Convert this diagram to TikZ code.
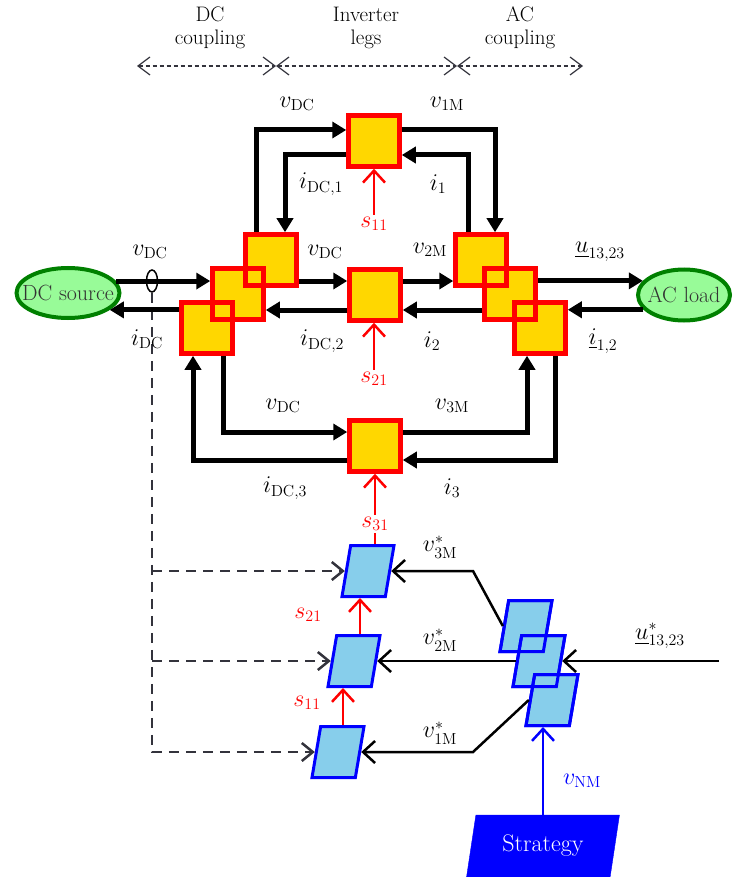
\RequirePackage{fix-cm}
\documentclass[tikz,border=0pt]{standalone}
\usepackage{amsmath}
\usepackage{tikz}
\DeclareMathSizes{22}{24}{16}{12}
\definecolor{legfill}{RGB}{255,215,0}
\definecolor{srcfill}{RGB}{152,251,152}
\definecolor{srcedge}{RGB}{0,128,0}
\definecolor{ctrlfill}{RGB}{135,206,235}
\definecolor{dimgray}{RGB}{51,51,60}
\usetikzlibrary{arrows.meta,shapes.geometric}

\begin{document}
\begin{tikzpicture}[x=1pt,y=1pt,font=\fontsize{22}{24}\selectfont,
  leg/.style={draw=red,fill=legfill,line width=4.5pt,minimum size=51pt,inner sep=0pt},
  src/.style={ellipse,draw=srcedge,fill=srcfill,line width=4pt,inner sep=0pt,label={[text=black!80]center:#1}},
  para/.style={trapezium,trapezium left angle=76,trapezium right angle=104,trapezium stretches=true,
    draw=blue,fill=ctrlfill,line width=3pt,minimum width=52pt,minimum height=51pt,inner sep=2pt},
  strat/.style={trapezium,trapezium left angle=77,trapezium right angle=103,trapezium stretches=true,
    draw=blue,fill=blue,text=white,minimum width=153pt,minimum height=62pt,inner sep=2pt,
    font=\fontsize{24}{26}\selectfont},
  pw/.style={line width=5pt,-{Triangle[length=14pt,width=16pt]}},
  sig/.style={line width=2.5pt,red,-{Straight Barb[length=12pt,width=22pt]}},
  cmd/.style={line width=2.5pt,-{Straight Barb[length=12pt,width=22pt]}},
  sense/.style={line width=2.5pt,dimgray,dash pattern=on 10pt off 7pt,-{Straight Barb[length=11pt,width=18pt]}},
  dim/.style={line width=1.2pt,dimgray,dash pattern=on 4pt off 3pt,
    {Straight Barb[length=12pt,width=18pt]}-{Straight Barb[length=12pt,width=18pt]}},
  slbl/.style={text=red,inner sep=2pt},
  head/.style={align=center,font=\fontsize{21}{23}\selectfont}]
  \useasboundingbox (0,0) rectangle (734,-877);

  % Dimension arrows on top
  \coordinate (d0) at (137,-66);
  \coordinate (d1) at (276,-66);
  \coordinate (d2) at (457,-66);
  \coordinate (d3) at (583,-66);
  \draw[dim] (d0) -- (d1);
  \draw[dim] (d1) -- (d2);
  \draw[dim] (d2) -- (d3);
  \node[head] (tdc) at (210,-28) {DC\\coupling};
  \node[head] (tinv) at (366,-28) {Inverter\\legs};
  \node[head] (tac) at (520,-28) {AC\\coupling};

  % Source and load
  \node[src=DC source,minimum width=103pt,minimum height=50pt] (dcsrc) at (68,-293) {};
  \node[src=AC load,minimum width=92pt,minimum height=51pt] (acload) at (684,-295) {};

  % Inverter legs
  \node[leg] (leg1) at (374,-141) {};
  \node[leg] (leg2) at (375,-295) {};
  \node[leg] (leg3) at (375,-446) {};
  % DC coupling switches
  \node[leg] (dc1) at (271,-260) {};
  \node[leg] (dc2) at (238,-294) {};
  \node[leg] (dc3) at (207,-328) {};
  % AC coupling switches
  \node[leg] (ac1) at (481,-260) {};
  \node[leg] (ac2) at (510,-294) {};
  \node[leg] (ac3) at (540,-328) {};
  \foreach \n in {dc1,dc2,dc3,ac1,ac2,ac3} \node[leg,fill=none] at (\n) {};

  % Modulators
  \node[para] (pwm3) at (368,-571) {};
  \node[para] (pwm2) at (354,-661) {};
  \node[para] (pwm1) at (338,-752) {};
  \node[para] (ref3) at (526,-626) {};
  \node[para] (ref2) at (539,-661) {};
  \node[para] (ref1) at (552,-700) {};
  \foreach \n in {ref3,ref2,ref1} \node[para,fill=none] at (\n) {};
  \node[strat] (strat) at (543,-846) {Strategy};

  % DC measurement
  \node[draw,ellipse,line width=1.5pt,minimum width=11pt,minimum height=22pt,inner sep=0pt] (ct) at (152,-281) {};
  \draw[sense] (ct.south) |- (pwm1.west);
  \draw[sense] (ct.south |- pwm2.west) -- (pwm2.west);
  \draw[sense] (ct.south |- pwm3.west) -- (pwm3.west);

  % DC side
  \draw[pw] (dcsrc.14) -- (dcsrc.14 -| dc2.west);
  \draw[pw] (dcsrc.338 -| dc3.west) -- (dcsrc.338);
  % Top leg
  \draw[pw] ([xshift=-15pt]dc1.north) |- ([yshift=11pt]leg1.west);
  \draw[pw] ([yshift=-14pt]leg1.west) -| ([xshift=14pt]dc1.north);
  \draw[pw] ([yshift=11pt]leg1.east) -| ([xshift=14pt]ac1.north);
  \draw[pw] ([xshift=-13pt]ac1.north) |- ([yshift=-14pt]leg1.east);
  % Middle leg
  \draw[pw] ([yshift=-21pt]dc1.east) -- ([yshift=14pt]leg2.west);
  \draw[pw] ([yshift=-15pt]leg2.west) -- ([yshift=-16pt]dc2.east);
  \draw[pw] ([yshift=14pt]leg2.east) -- ([yshift=-21pt]ac1.west);
  \draw[pw] ([yshift=-16pt]ac2.west) -- ([yshift=-15pt]leg2.east);
  % Bottom leg
  \draw[pw] ([xshift=16pt]dc3.south) |- ([yshift=14pt]leg3.west);
  \draw[pw] ([yshift=-14pt]leg3.west) -| ([xshift=-14pt]dc3.south);
  \draw[pw] ([yshift=14pt]leg3.east) -| ([xshift=-13pt]ac3.south);
  \draw[pw] ([xshift=15pt]ac3.south) |- ([yshift=-14pt]leg3.east);
  % AC side
  \draw[pw] (ac2.east |- acload.161) -- (acload.161);
  \draw[pw] (acload.200) -- (acload.200 -| ac3.east);

  % Switching signals
  \node[slbl] (s11) at (374,-224) {$s_{11}$};
  \node[slbl] (s21) at (374,-379) {$s_{21}$};
  \draw[sig] (s11.north) -- (s11.north |- leg1.south);
  \draw[sig] (s21.north) -- (s21.north |- leg2.south);
  \draw[sig] (pwm3.north -| leg3.south) -- (leg3.south);
  \node[slbl,fill=white] (s31) at (375,-524) {$s_{31}$};
  \coordinate (t1) at ([xshift=5pt]pwm1.north);
  \coordinate (t2) at ([xshift=6pt]pwm2.north);
  \draw[sig] (t1) -- (t1 |- pwm2.south);
  \draw[sig] (t2) -- (t2 |- pwm3.south);
  \node[slbl] (s11b) at (307,-703) {$s_{11}$};
  \node[slbl] (s21b) at (308,-615) {$s_{21}$};

  % Reference voltages
  \coordinate (k3) at (473,-571);
  \coordinate (k1) at (473,-752);
  \coordinate (uin) at (719,-661);
  \draw[cmd] (ref3.west) -- (k3) -- (pwm3.east);
  \draw[cmd] (ref2.west) -- (pwm2.east);
  \draw[cmd] (ref1.west) -- (k1) -- (pwm1.east);
  \draw[cmd] (uin) -- (ref2.east);
  \draw[cmd,blue] (strat.north) -- (strat.north |- ref1.south);

  % Labels
  \node (vdc0) at (150,-252) {$v_{\mathrm{DC}}$};
  \node (idc0) at (147,-339) {$i_{\mathrm{DC}}$};
  \node (vdc1) at (297,-104) {$v_{\mathrm{DC}}$};
  \node (idc1) at (321,-184) {$i_{\mathrm{DC,1}}$};
  \node (v1m) at (447,-104) {$v_{\mathrm{1M}}$};
  \node (i1) at (438,-184) {$i_{1}$};
  \node (vdc2) at (325,-252) {$v_{\mathrm{DC}}$};
  \node (idc2) at (322,-341) {$i_{\mathrm{DC,2}}$};
  \node (v2m) at (430,-250) {$v_{\mathrm{2M}}$};
  \node (i2) at (432,-341) {$i_{2}$};
  \node (u1323) at (600,-252) {$\underline{u}_{13,23}$};
  \node (i12) at (603,-341) {$\underline{i}_{1,2}$};
  \node (vdc3) at (283,-406) {$v_{\mathrm{DC}}$};
  \node (idc3) at (285,-488) {$i_{\mathrm{DC,3}}$};
  \node (v3m) at (452,-406) {$v_{\mathrm{3M}}$};
  \node (i3) at (452,-488) {$i_{3}$};
  \node (v3ms) at (440,-547) {$v^{*}_{\mathrm{3M}}$};
  \node (v2ms) at (440,-640) {$v^{*}_{\mathrm{2M}}$};
  \node (v1ms) at (440,-733) {$v^{*}_{\mathrm{1M}}$};
  \node (u1323s) at (660,-636) {$\underline{u}^{*}_{13,23}$};
  \node[text=blue] (vnm) at (582,-781) {$v_{\mathrm{NM}}$};
\end{tikzpicture}
\end{document}
